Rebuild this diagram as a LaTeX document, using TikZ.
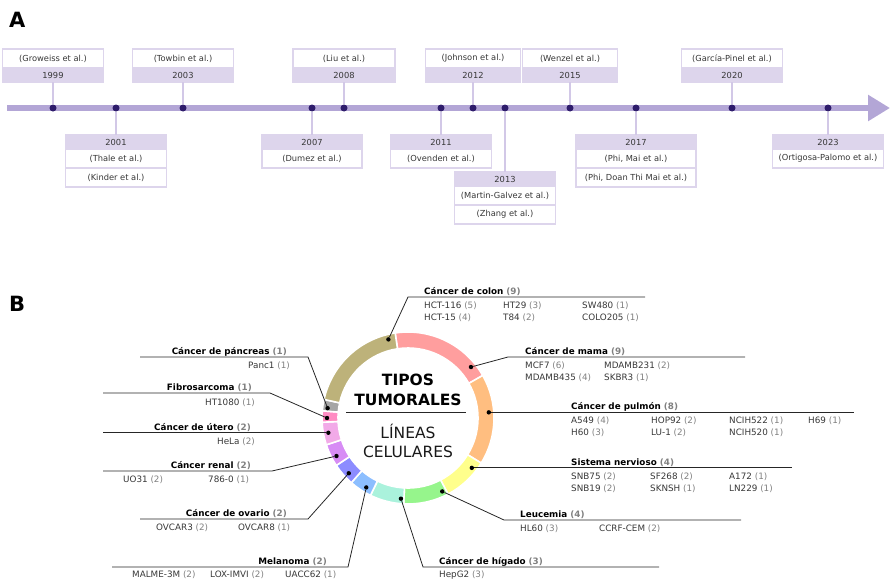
\documentclass[tikz,border=0pt]{standalone}
\usepackage{fontspec}
\setmainfont{DejaVu Sans}
\usepackage{xcolor}
\usepackage{tikz}
\usetikzlibrary{arrows.meta,positioning}

\definecolor{tlbar}{RGB}{179,166,214}
\definecolor{tldotc}{RGB}{46,28,107}
\definecolor{tlbox}{RGB}{221,213,236}
\definecolor{tlline}{RGB}{210,200,231}
\definecolor{txtdark}{RGB}{55,55,55}
\definecolor{cntgray}{RGB}{128,128,128}
\definecolor{ccolon}{RGB}{189,178,122}
\definecolor{cmama}{RGB}{255,158,158}
\definecolor{cpulmon}{RGB}{255,190,128}
\definecolor{cnerv}{RGB}{255,255,140}
\definecolor{cleuc}{RGB}{150,245,140}
\definecolor{chig}{RGB}{170,242,220}
\definecolor{cmela}{RGB}{140,190,255}
\definecolor{cova}{RGB}{140,140,255}
\definecolor{cren}{RGB}{215,140,245}
\definecolor{cute}{RGB}{242,170,232}
\definecolor{cfib}{RGB}{255,140,195}
\definecolor{cpan}{RGB}{166,166,166}

\newcommand{\cnum}[1]{\textcolor{cntgray}{(#1)}}

\begin{document}
\begin{tikzpicture}[x=1pt, y=1pt, font=\fontsize{8.3}{10}\selectfont,
  namecell/.style={draw=tlbox, fill=white, line width=1.4pt, inner sep=0pt, outer sep=0pt, minimum height=19pt, text=txtdark},
  yearcell/.style={draw=tlbox, fill=tlbox, line width=1.4pt, inner sep=0pt, outer sep=0pt, minimum height=14pt, text=txtdark},
  tlconn/.style={draw=tlline, line width=1.5pt},
  tldot/.style={circle, fill=tldotc, inner sep=0pt, minimum size=7pt},
  ringdot/.style={circle, fill=black, inner sep=0pt, minimum size=4.4pt},
  leader/.style={draw=black!85, line width=0.8pt},
  cattitle/.style={font=\fontsize{8.8}{10}\selectfont\bfseries, inner sep=0pt},
  catitem/.style={font=\fontsize{8.8}{10}\selectfont, text=txtdark, inner sep=0pt},
  panel/.style={font=\fontsize{21}{24}\selectfont\bfseries, anchor=base west, inner sep=0pt}]
\useasboundingbox (0,0) rectangle (890,-578);

\node[panel] (labA) at (9,-28) {A};
\node[panel] (labB) at (9,-311) {B};

% timeline
\coordinate (tstart) at (7,-108);
\coordinate (tend) at (890,-108);
\draw[line width=6.5pt, draw=tlbar, -{Triangle[length=22pt,width=25pt]}] (tstart) -- (tend);
\foreach \yr/\x in {1999/53, 2001/116, 2003/183, 2007/312, 2008/344, 2011/441, 2012/473, 2013/505, 2015/570, 2017/636, 2020/732, 2023/828}
  \node[tldot] (d\yr) at (\x,-108) {};

\foreach \yr/\x/\w/\nm in {1999/53/101/{(Groweiss et al.)}, 2003/183/101/{(Towbin et al.)}, 2008/344/102/{(Liu et al.)}, 2012/473/95/{(Johnson et al.)}, 2015/570/95/{(Wenzel et al.)}, 2020/732/101/{(García-Pinel et al.)}} {
  \node[namecell, minimum width=\w pt, anchor=north] (n\yr) at (\x,-49) {\nm};
  \node[yearcell, minimum width=\w pt, below=0pt of n\yr] (y\yr) {\yr};
  \draw[tlconn] (y\yr) -- (d\yr);
}
\foreach \yr/\x/\ty/\w/\nm in {2001/116/135/101/{(Thale et al.)}, 2007/312/135/100/{(Dumez et al.)}, 2011/441/135/101/{(Ovenden et al.)}, 2013/505/172/101/{(Martin-Galvez et al.)}, 2017/636/135/120/{(Phi, Mai et al.)}, 2023/828/135/111/{(Ortigosa-Palomo et al.)}} {
  \node[yearcell, minimum width=\w pt, anchor=north] (y\yr) at (\x,-\ty) {\yr};
  \node[namecell, minimum width=\w pt, below=0pt of y\yr] (n\yr) {\nm};
  \draw[tlconn] (d\yr) -- (y\yr);
}
\node[namecell, minimum width=101pt, below=0pt of n2001] (m2001) {(Kinder et al.)};
\node[namecell, minimum width=101pt, below=0pt of n2013] (m2013) {(Zhang et al.)};
\node[namecell, minimum width=120pt, below=0pt of n2017] (m2017) {(Phi, Doan Thi Mai et al.)};

% ring
\coordinate (ctr) at (408,-418);
\begin{scope}[shift={(ctr)}]
\foreach \a/\b/\col in {98.6/29.66/cmama, 29.66/-31.62/cpulmon, -31.62/-62.26/cnerv, -62.26/-92.9/cleuc, -92.9/-115.88/chig, -115.88/-131.2/cmela, -131.2/-146.52/cova, -146.52/-161.84/cren, -161.84/-177.16/cute, -177.16/-184.82/cfib, -184.82/-192.48/cpan, -192.48/-261.4/ccolon}
  \draw[fill=\col, draw=white, line width=1.6pt] (\a:86) arc[start angle=\a, end angle=\b, radius=86] -- (\b:70) arc[start angle=\b, end angle=\a, radius=70] -- cycle;
\end{scope}
\foreach \nm/\ang in {colon/104, mama/39, pulm/4, nerv/-38, leuc/-65, hig/-95, mela/-121, ova/-137, ren/-152, ute/-169.5, fib/180, pan/173}
  \node[ringdot] (p\nm) at ([shift={(\ang:81)}]ctr) {};

\node[font=\fontsize{15.5}{18}\selectfont\bfseries, anchor=base] (ttipos) at (408,-385) {TIPOS};
\node[font=\fontsize{15.5}{18}\selectfont\bfseries, anchor=base] (ttumor) at (408,-405) {TUMORALES};
\coordinate (divL) at (346,-412);
\coordinate (divR) at (466,-412);
\draw[leader] (divL) -- (divR);
\node[font=\fontsize{15.5}{18}\selectfont, text=black!90, anchor=base] (tlineas) at (408,-438.5) {LÍNEAS};
\node[font=\fontsize{15.5}{18}\selectfont, text=black!90, anchor=base] (tcelul) at (408,-457) {CELULARES};

% right side
\coordinate (colA) at (408,-297);
\coordinate (colB) at (645,-297);
\draw[leader] (pcolon) -- (colA) -- (colB);
\node[cattitle, anchor=base west] (tcolon) at (424,-294.5) {Cáncer de colon \cnum{9}};
\foreach \x/\y/\t [count=\k] in {424/308/{HCT-116 \cnum{5}}, 503/308/{HT29 \cnum{3}}, 582/308/{SW480 \cnum{1}}, 424/320/{HCT-15 \cnum{4}}, 503/320/{T84 \cnum{2}}, 582/320/{COLO205 \cnum{1}}}
  \node[catitem, anchor=base west] (colon\k) at (\x,-\y) {\t};

\coordinate (mamA) at (508,-357);
\coordinate (mamB) at (745,-357);
\draw[leader] (pmama) -- (mamA) -- (mamB);
\node[cattitle, anchor=base west] (tmama) at (525,-354.5) {Cáncer de mama \cnum{9}};
\foreach \x/\y/\t [count=\k] in {525/368/{MCF7 \cnum{6}}, 604/368/{MDAMB231 \cnum{2}}, 525/380/{MDAMB435 \cnum{4}}, 604/380/{SKBR3 \cnum{1}}}
  \node[catitem, anchor=base west] (mama\k) at (\x,-\y) {\t};

\coordinate (pulB) at (854,-412);
\draw[leader] (ppulm) -- (ppulm -| pulB);
\node[cattitle, anchor=base west] (tpulm) at (571,-409.5) {Cáncer de pulmón \cnum{8}};
\foreach \x/\y/\t [count=\k] in {571/423/{A549 \cnum{4}}, 651/423/{HOP92 \cnum{2}}, 729/423/{NCIH522 \cnum{1}}, 808/423/{H69 \cnum{1}}, 571/435/{H60 \cnum{3}}, 651/435/{LU-1 \cnum{2}}, 729/435/{NCIH520 \cnum{1}}}
  \node[catitem, anchor=base west] (pulm\k) at (\x,-\y) {\t};

\coordinate (nerB) at (792,-468);
\draw[leader] (pnerv) -- (pnerv -| nerB);
\node[cattitle, anchor=base west] (tnerv) at (571,-465.5) {Sistema nervioso \cnum{4}};
\foreach \x/\y/\t [count=\k] in {571/479/{SNB75 \cnum{2}}, 650/479/{SF268 \cnum{2}}, 729/479/{A172 \cnum{1}}, 571/491/{SNB19 \cnum{2}}, 650/491/{SKNSH \cnum{1}}, 729/491/{LN229 \cnum{1}}}
  \node[catitem, anchor=base west] (nerv\k) at (\x,-\y) {\t};

\coordinate (leuA) at (504,-520);
\coordinate (leuB) at (741,-520);
\draw[leader] (pleuc) -- (leuA) -- (leuB);
\node[cattitle, anchor=base west] (tleuc) at (520,-517.5) {Leucemia \cnum{4}};
\foreach \x/\y/\t [count=\k] in {520/531/{HL60 \cnum{3}}, 599/531/{CCRF-CEM \cnum{2}}}
  \node[catitem, anchor=base west] (leuc\k) at (\x,-\y) {\t};

\coordinate (higA) at (423,-567);
\coordinate (higB) at (659,-567);
\draw[leader] (phig) -- (higA) -- (higB);
\node[cattitle, anchor=base west] (thig) at (439,-564.5) {Cáncer de hígado \cnum{3}};
\node[catitem, anchor=base west] (hig1) at (439,-577) {HepG2 \cnum{3}};

% left side
\coordinate (melA) at (348,-567);
\coordinate (melB) at (112,-567);
\draw[leader] (pmela) -- (melA) -- (melB);
\node[cattitle, anchor=base east] (tmela) at (327,-564.5) {Melanoma \cnum{2}};
\foreach \x/\y/\t [count=\k] in {132/577/{MALME-3M \cnum{2}}, 210/577/{LOX-IMVI \cnum{2}}, 285/577/{UACC62 \cnum{1}}}
  \node[catitem, anchor=base west] (mela\k) at (\x,-\y) {\t};

\coordinate (ovaA) at (308,-519);
\coordinate (ovaB) at (140,-519);
\draw[leader] (pova) -- (ovaA) -- (ovaB);
\node[cattitle, anchor=base east] (tova) at (287,-516.5) {Cáncer de ovario \cnum{2}};
\foreach \x/\y/\t [count=\k] in {156/530/{OVCAR3 \cnum{2}}, 238/530/{OVCAR8 \cnum{1}}}
  \node[catitem, anchor=base west] (ova\k) at (\x,-\y) {\t};

\coordinate (renA) at (272,-471);
\coordinate (renB) at (103,-471);
\draw[leader] (pren) -- (renA) -- (renB);
\node[cattitle, anchor=base east] (tren) at (251,-468.5) {Cáncer renal \cnum{2}};
\foreach \x/\y/\t [count=\k] in {123/482/{UO31 \cnum{2}}, 208/482/{786-0 \cnum{1}}}
  \node[catitem, anchor=base west] (ren\k) at (\x,-\y) {\t};

\coordinate (uteB) at (103,-433);
\draw[leader] (pute) -- (pute -| uteB);
\node[cattitle, anchor=base east] (tute) at (251,-430) {Cáncer de útero \cnum{2}};
\node[catitem, anchor=base east] (ute1) at (255,-444) {HeLa \cnum{2}};

\coordinate (fibA) at (270,-393);
\coordinate (fibB) at (103,-393);
\draw[leader] (pfib) -- (fibA) -- (fibB);
\node[cattitle, anchor=base east] (tfib) at (252,-390.5) {Fibrosarcoma \cnum{1}};
\node[catitem, anchor=base east] (fib1) at (255,-405) {HT1080 \cnum{1}};

\coordinate (panA) at (308,-357);
\coordinate (panB) at (140,-357);
\draw[leader] (ppan) -- (panA) -- (panB);
\node[cattitle, anchor=base east] (tpan) at (287,-354.5) {Cáncer de páncreas \cnum{1}};
\node[catitem, anchor=base east] (pan1) at (290,-368) {Panc1 \cnum{1}};
\end{tikzpicture}
\end{document}
